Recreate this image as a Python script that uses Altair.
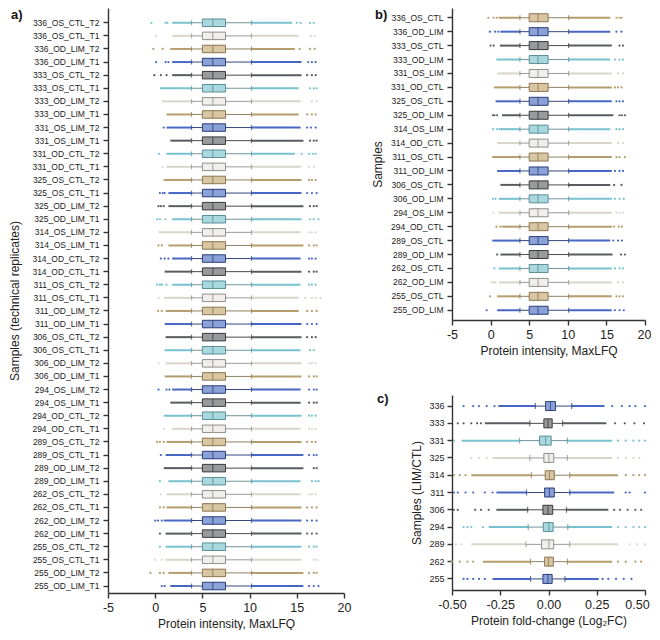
import altair as alt
import pandas as pd

# ---------------- palette (styles) ----------------
FILL = {"cyan": "#a9d8de", "white": "#f1efeb", "tan": "#d8c7a2", "blue": "#8aa2d8", "dark": "#999a9c"}
EDGE = {"cyan": "#5a8f96", "white": "#8e8e8e", "tan": "#8a7550", "blue": "#2b3d78", "dark": "#3a3a3a"}
WHISK = {"cyan": "#6d9499", "white": "#9a9a9a", "tan": "#8f8062", "blue": "#34467c", "dark": "#4a4a4a"}
OUT = {"cyan": "#78c2cf", "white": "#d9d5c9", "tan": "#b59d6c", "blue": "#4667c4", "dark": "#585c60"}

# ---------------- panel a data ----------------
names_a = ["336_OS_CTL_T2", "336_OS_CTL_T1", "336_OD_LIM_T2", "336_OD_LIM_T1", "333_OS_CTL_T2", "333_OS_CTL_T1",
           "333_OD_LIM_T2", "333_OD_LIM_T1", "331_OS_LIM_T2", "331_OS_LIM_T1", "331_OD_CTL_T2", "331_OD_CTL_T1",
           "325_OS_CTL_T2", "325_OS_CTL_T1", "325_OD_LIM_T2", "325_OD_LIM_T1", "314_OS_LIM_T2", "314_OS_LIM_T1",
           "314_OD_CTL_T2", "314_OD_CTL_T1", "311_OS_CTL_T2", "311_OS_CTL_T1", "311_OD_LIM_T2", "311_OD_LIM_T1",
           "306_OS_CTL_T2", "306_OS_CTL_T1", "306_OD_LIM_T2", "306_OD_LIM_T1", "294_OS_LIM_T2", "294_OS_LIM_T1",
           "294_OD_CTL_T2", "294_OD_CTL_T1", "289_OS_CTL_T2", "289_OS_CTL_T1", "289_OD_LIM_T2", "289_OD_LIM_T1",
           "262_OS_CTL_T2", "262_OS_CTL_T1", "262_OD_LIM_T2", "262_OD_LIM_T1", "255_OS_CTL_T2", "255_OS_CTL_T1",
           "255_OD_LIM_T2", "255_OD_LIM_T1"]
groups_a = (["cyan", "white", "tan", "blue", "dark"] * 9)[:44]
q1_a = [5.0] * 44
med_a = [6.1] * 44
q3_a = [7.45] * 44
wl_a = [3.85] * 44
wh_a = [10.2] * 44
lodense_a = [1.8, 1.8, 1.6, 1.8, 1.8, 0.5, 0.7, 1.2, 1.2, 1.6, 1.2, 1.2, 0.9, 1.4, 1.4, 1.8, 0.35, 1.4, 1.8, 1.0,
             1.8, 0.9, 1.1, 1.0, 1.1, 1.0, 1.1, 1.0, 1.8, 1.6, 0.9, 1.8, 1.2, 1.1, 0.9, 1.4, 1.2, 1.2, 0.9, 1.1,
             1.1, 1.1, 1.4, 1.6]
hidense_a = [14.5, 15.2, 14.8, 15.5, 15.5, 15.2, 15.4, 15.2, 15.4, 15.7, 14.8, 15.4, 15.5, 15.5, 15.7, 15.5, 15.4,
             15.7, 15.4, 15.5, 15.4, 15.2, 15.2, 15.5, 15.5, 15.4, 15.5, 15.5, 15.4, 15.4, 15.5, 15.4, 15.5, 15.7,
             15.7, 15.4, 15.4, 15.5, 15.5, 15.5, 15.5, 15.5, 15.7, 15.7]
loout_a = [[-0.4, 1.1, 1.3], [0.1], [-0.2, 0.8], [0.1, 1.1, 1.4], [-0.1, 0.6, 1.2], [], [], [], [0.9], [],
           [0.4], [0.8], [], [0.5, 0.8, 1.0], [0.35, 0.6, 0.9], [0.2, 0.5, 1.1], [], [0.35, 0.7], [0.6, 1.0, 1.4], [],
           [0.2, 0.5, 0.7, 1.2], [0.35], [0.3, 0.7], [], [], [], [0.35], [], [0.35, 1.2, 1.5], [],
           [], [0.9], [0.2, 0.5, 0.9], [0.6], [], [0.5], [0.6], [0.5, 0.9], [0.0, 0.3, 0.7], [0.5],
           [0.5], [0.0, 0.7], [-0.5, 0.5, 0.9], [0.7, 1.0]]
hiout_a = [[15.0, 15.4, 16.4, 16.8], [16.5, 16.9], [15.3, 16.4, 16.9], [16.2, 16.6, 17.0], [16.1, 16.6, 17.0],
           [16.4, 16.8, 17.1], [16.6, 17.1], [16.1, 16.6, 17.0], [16.1, 16.5, 17.0], [16.4, 16.8, 17.1],
           [15.5, 16.3, 16.7, 17.0], [16.3, 16.8], [16.3, 16.6, 17.0], [16.1, 16.6, 17.1], [16.4, 16.8, 17.1],
           [16.4, 16.8, 17.3], [16.3, 16.6, 17.0], [16.3, 16.8, 17.1], [16.3, 16.6, 17.0], [16.3, 16.8, 17.1],
           [16.3, 16.6, 17.0], [15.9, 16.6, 17.0, 17.5], [16.1, 16.6, 17.1], [16.1, 16.6, 17.1], [16.1, 16.6, 17.0],
           [16.4, 16.8], [16.3, 16.6, 17.0], [16.3, 16.8, 17.1], [16.3, 16.8, 17.1], [16.3, 16.8, 17.1],
           [16.3, 16.6, 17.0], [16.3, 16.6, 17.0], [16.1, 16.6, 17.0], [16.3, 16.8, 17.1], [16.8, 17.1],
           [16.6, 17.0, 17.3], [16.3, 16.6, 17.0], [16.1, 16.6, 17.1], [16.1, 16.6, 17.1], [16.1, 16.6, 17.1],
           [16.3, 16.8, 17.1], [16.8, 17.1], [16.3, 16.8, 17.1], [16.3, 16.8, 17.3]]

# ---------------- panel b data ----------------
names_b = ["336_OS_CTL", "336_OD_LIM", "333_OS_CTL", "333_OD_LIM", "331_OS_LIM", "331_OD_CTL", "325_OS_CTL",
           "325_OD_LIM", "314_OS_LIM", "314_OD_CTL", "311_OS_CTL", "311_OD_LIM", "306_OS_CTL", "306_OD_LIM",
           "294_OS_LIM", "294_OD_CTL", "289_OS_CTL", "289_OD_LIM", "262_OS_CTL", "262_OD_LIM", "255_OS_CTL",
           "255_OD_LIM"]
groups_b = (["tan", "blue", "dark", "cyan", "white"] * 5)[:22]
q1_b = [5.0] * 22
med_b = [6.15] * 22
q3_b = [7.45] * 22
wl_b = [3.8] * 22
wh_b = [10.1] * 22
lodense_b = [1.06, 1.27, 1.2, 0.76, 0.85, 0.42, 0.64, 1.48, 1.06, 0.85, 0.21, 0.85, 1.27, 1.06, 1.06, 1.48,
             0.21, 1.27, 1.06, 1.06, 0.85, 0.85]
hidense_b = [15.5, 15.5, 15.7, 15.5, 15.7, 15.7, 15.7, 15.9, 15.5, 15.7, 15.7, 15.7, 15.5, 15.7, 15.7, 15.7,
             15.5, 15.8, 15.7, 15.7, 15.7, 15.7]
loout_b = [[-0.3, 0.4, 0.8], [-0.1, 0.6, 1.0], [0.0, 0.4], [], [], [], [], [0.3, 0.5, 0.85], [0.34, 0.85], [],
           [], [], [], [0.3, 0.64], [0.34], [0.76, 1.27], [], [0.85], [0.5], [0.13, 0.4, 0.64], [-0.08], [-0.5]]
hiout_b = [[16.3, 16.7, 16.95], [16.3, 16.95], [16.7, 17.15], [16.1, 16.7, 17.15], [16.5, 17.15],
           [16.1, 16.5, 16.95], [16.3, 16.7, 17.15], [16.7, 17.0, 17.4], [16.3, 16.7, 17.15], [16.5, 17.15],
           [16.3, 16.7, 17.4], [16.1, 16.7, 17.15], [16.0, 16.95], [16.1, 16.7, 17.25], [16.3, 16.7, 17.15],
           [16.0, 16.6, 17.0], [15.9, 16.5, 17.0], [16.9, 17.4], [16.1, 16.7, 17.15], [16.5, 17.15],
           [16.3, 16.7, 17.15], [16.1, 16.7, 17.25]]

# ---------------- panel c data ----------------
names_c = ["336", "333", "331", "325", "314", "311", "306", "294", "289", "262", "255"]
groups_c = ["blue", "dark", "cyan", "white", "tan", "blue", "dark", "cyan", "white", "tan", "blue"]
q1_c = [-0.015, -0.024, -0.046, -0.024, -0.017, -0.02, -0.029, -0.027, -0.036, -0.02, -0.029]
med_c = [0.01, -0.003, -0.015, 0.002, 0.005, 0.005, -0.003, 0.002, 0.002, 0.0, -0.003]
q3_c = [0.036, 0.019, 0.014, 0.027, 0.03, 0.03, 0.022, 0.024, 0.027, 0.025, 0.019]
wl_c = [-0.068, -0.097, -0.15, -0.097, -0.088, -0.114, -0.108, -0.105, -0.117, -0.093, -0.093]
wh_c = [0.12, 0.073, 0.098, 0.098, 0.11, 0.11, 0.093, 0.10, 0.11, 0.098, 0.085]
lodense_c = [-0.26, -0.33, -0.45, -0.29, -0.40, -0.27, -0.27, -0.31, -0.40, -0.34, -0.29]
hidense_c = [0.29, 0.30, 0.33, 0.33, 0.36, 0.34, 0.31, 0.33, 0.36, 0.33, 0.26]
loout_c = [[-0.44, -0.39, -0.36, -0.32, -0.28], [-0.47, -0.44, -0.40, -0.37, -0.35], [-0.49],
           [-0.40, -0.36, -0.32], [-0.49, -0.46, -0.43], [-0.49, -0.47, -0.43, -0.39, -0.33, -0.29],
           [-0.49, -0.47, -0.38, -0.35, -0.31], [-0.44, -0.42, -0.40, -0.34], [-0.48, -0.45],
           [-0.50, -0.46, -0.42, -0.39], [-0.44, -0.42, -0.39, -0.36, -0.33]]
hiout_c = [[0.33, 0.38, 0.42, 0.45, 0.50], [0.345, 0.395, 0.445, 0.495], [0.36, 0.40, 0.44, 0.47, 0.50],
           [0.36, 0.40, 0.44, 0.47], [0.40, 0.44, 0.47, 0.50], [0.40, 0.42, 0.50], [0.34, 0.37, 0.41, 0.45, 0.48],
           [0.36, 0.40, 0.44, 0.47, 0.50], [0.42, 0.46, 0.50], [0.36, 0.40, 0.45, 0.48],
           [0.28, 0.31, 0.35, 0.39, 0.43]]

FONT = "Liberation Sans"
AX = "#333333"


def tables(names, groups, q1, med, q3, wl, wh, ld, hd, lo, hi):
    box = pd.DataFrame({"name": names, "q1": q1, "med": med, "q3": q3, "wl": wl, "wh": wh,
                        "ld": ld, "hd": hd})
    box["fill_c"] = [FILL[g] for g in groups]
    box["edge_c"] = [EDGE[g] for g in groups]
    box["wh_c"] = [WHISK[g] for g in groups]
    box["out_c"] = [OUT[g] for g in groups]
    rows = []
    for n, g, l, h in zip(names, groups, lo, hi):
        for v in list(l) + list(h):
            rows.append({"name": n, "v": v, "out_c": OUT[g]})
    pts = pd.DataFrame(rows)
    return box, pts


def panel(box, pts, names, width, height, domain, ticks, fmt, ytitle, xtitle, ylabel_size,
          po, align, box_size, cap_size, ytitle_pad, ylabel_pad, letter, letter_x, letter_y, last_offset=None):
    ys = alt.Scale(paddingInner=0, paddingOuter=po, align=align)
    yaxis = alt.Axis(labelFontSize=ylabel_size, titlePadding=ytitle_pad, labelPadding=ylabel_pad,
                     domain=True, domainColor=AX, domainWidth=1.4, domainOpacity=1)
    Y = alt.Y("name:N", sort=names, scale=ys, axis=yaxis, title=ytitle)
    xs = alt.Scale(domain=domain, nice=False, zero=False)
    xkw = dict(values=ticks, format=fmt, labelExpr="replace(datum.label, '\u2212', '-')",
               labelFlush=False, domain=True, domainColor=AX, domainWidth=1.4, domainOpacity=1)
    if last_offset is not None:
        xkw["labelOffset"] = {"condition": {"test": "datum.value >= %s" % ticks[-1], "value": last_offset},
                              "value": 0}
    xaxis = alt.Axis(**xkw)

    def X(f):
        return alt.X(f, type="quantitative", scale=xs, axis=xaxis, title=xtitle)

    base = alt.Chart(box)
    dense_lo = base.mark_rule(strokeWidth=2).encode(x=X("ld"), x2="wl", y=Y, color=alt.Color("out_c:N", scale=None))
    dense_hi = base.mark_rule(strokeWidth=2).encode(x=X("wh"), x2="hd", y=Y, color=alt.Color("out_c:N", scale=None))
    dots = alt.Chart(pts).mark_circle(size=5, opacity=1).encode(x=X("v"), y=Y, color=alt.Color("out_c:N", scale=None))
    w_lo = base.mark_rule(strokeWidth=1).encode(x=X("wl"), x2="q1", y=Y, color=alt.Color("wh_c:N", scale=None))
    w_hi = base.mark_rule(strokeWidth=1).encode(x=X("q3"), x2="wh", y=Y, color=alt.Color("wh_c:N", scale=None))
    cap_lo = base.mark_tick(size=cap_size, thickness=1.2).encode(x=X("wl"), y=Y, color=alt.Color("edge_c:N", scale=None))
    cap_hi = base.mark_tick(size=cap_size, thickness=1.2).encode(x=X("wh"), y=Y, color=alt.Color("edge_c:N", scale=None))
    bx = base.mark_bar(size=box_size, strokeWidth=1).encode(
        x=X("q1"), x2="q3", y=Y,
        fill=alt.Fill("fill_c:N", scale=None), stroke=alt.Stroke("edge_c:N", scale=None))
    md = base.mark_tick(size=box_size, thickness=1.2).encode(x=X("med"), y=Y, color=alt.Color("edge_c:N", scale=None))
    lt = alt.Chart(pd.DataFrame({"t": [letter]})).mark_text(
        align="left", baseline="top", fontSize=13, fontWeight="bold", font=FONT, color="#111").encode(
        text="t:N", x=alt.value(letter_x), y=alt.value(letter_y))
    return alt.layer(dense_lo, dense_hi, dots, w_lo, w_hi, cap_lo, cap_hi, bx, md, lt).properties(
        width=width, height=height)


box_a, pts_a = tables(names_a, groups_a, q1_a, med_a, q3_a, wl_a, wh_a, lodense_a, hidense_a, loout_a, hiout_a)
box_b, pts_b = tables(names_b, groups_b, q1_b, med_b, q3_b, wl_b, wh_b, lodense_b, hidense_b, loout_b, hiout_b)
box_c, pts_c = tables(names_c, groups_c, q1_c, med_c, q3_c, wl_c, wh_c, lodense_c, hidense_c, loout_c, hiout_c)

pa = panel(box_a, pts_a, names_a, 236, 585, [-5, 20], [-5, 0, 5, 10, 15, 20], "d",
           "Samples (technical replicates)", "Protein intensity, MaxLFQ", 8.5, 0.33, 0.95, 7.5, 5, 10, 4,
           "a)", -97, 1)
pb = panel(box_b, pts_b, names_b, 193, 312, [-5, 20], [-5, 0, 5, 10, 15, 20], "d",
           "Samples", "Protein intensity, MaxLFQ", 8.5, 0.2, 0.5, 8, 5, 6, 4,
           "b)", -77, 1, last_offset=-1)
pc = panel(box_c, pts_c, names_c, 193, 195, [-0.5, 0.5], [-0.5, -0.25, 0, 0.25, 0.5], ".2f",
           "Samples (LIM/CTL)", "Protein fold-change (Log\u2082FC)", 9, 0.14, 0.5, 9, 6, 5, 3,
           "c)", -75, -2, last_offset=-8)

chart = alt.hconcat(pa, alt.vconcat(pb, pc, spacing=36), spacing=20, padding=0).configure_view(
    stroke=None).configure_axis(
    domainColor=AX, domainWidth=1.4, tickColor=AX, tickWidth=1.4, tickSize=5,
    labelFont=FONT, titleFont=FONT, labelColor="#222222", titleColor="#222222",
    labelFontSize=12.5, titleFontSize=12, titleFontWeight="normal", grid=False, labelPadding=3,
).configure_axisX(titlePadding=5, labelPadding=3)

chart.save("out.html", embed_options={"renderer": "svg", "actions": False})
